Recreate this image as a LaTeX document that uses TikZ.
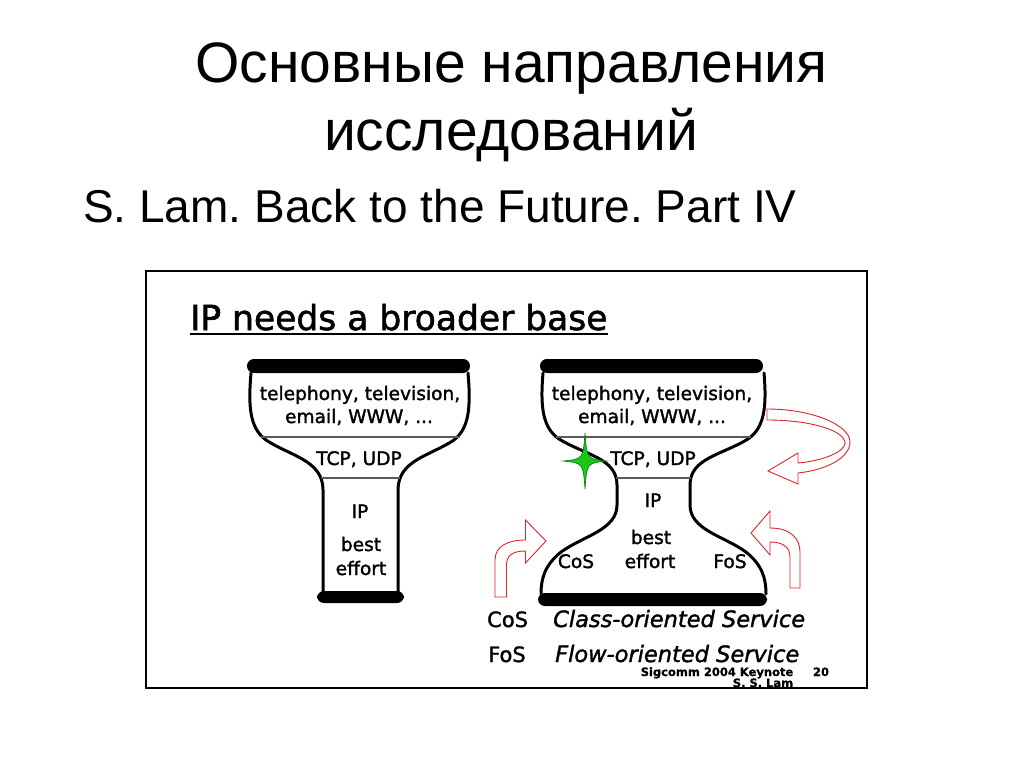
\documentclass[tikz,border=0pt]{standalone}
\usepackage{fontspec}
\setmainfont{Liberation Sans}
\newfontfamily\comic[FakeBold=1.6]{DejaVu Sans}
\newfontfamily\comicsmall[FakeBold=0.8]{DejaVu Sans}
\definecolor{arrowred}{RGB}{225,35,45}
\definecolor{stargreen}{RGB}{25,200,25}
\definecolor{stardark}{RGB}{0,120,0}
\frenchspacing
\begin{document}
\begin{tikzpicture}[x=1pt,y=-1pt,
  wall/.style={line width=3pt, line join=round, line cap=round},
  divider/.style={line width=1.2pt, black!65},
  barshape/.style={fill=black, rounded corners=6.9pt},
  lbl/.style={font=\comic\fontsize{18.6}{21}\selectfont, anchor=base, inner sep=0pt},
  legend/.style={font=\comic\fontsize{21}{24}\selectfont, anchor=base west, inner sep=0pt},
  legendit/.style={font=\comic\itshape\fontsize{22.5}{25}\selectfont, anchor=base west, inner sep=0pt},
  small/.style={font=\comicsmall\bfseries\fontsize{11.5}{13}\selectfont, anchor=base, inner sep=0pt},
  redarrow/.style={draw=arrowred, line width=0.9pt, fill=white, line join=miter}]
\useasboundingbox (0,0) rectangle (1024,768);
\fill[white] (0,0) rectangle (1024,768);

% slide titles
\node[anchor=base, inner sep=0pt, font=\fontsize{57}{68}\selectfont] (t1) at (511.5,82) {Основные направления};
\node[anchor=base, inner sep=0pt, font=\fontsize{57}{68}\selectfont] (t2) at (511,150) {исследований};
\node[anchor=base west, inner sep=0pt, font=\fontsize{46}{54}\selectfont] (t3) at (83,222) {S. Lam. Back to the Future. Part IV};

% heading of embedded slide
\node[anchor=base west, inner sep=0pt, font=\comic\fontsize{34.5}{38}\selectfont] (ipt) at (190,330) {IP needs a broader base};
\draw[line width=2pt] ([yshift=-4pt]ipt.base west) -- ([yshift=-4pt]ipt.base east);

% ---------- left hourglass ----------
\fill[barshape] (247,359) rectangle (470,373);
\fill[barshape] (317,591) rectangle (404,603);
\draw[wall] (251,373) .. controls (248,408) and (250,428) .. (266,440) .. controls (290,456) and (323,460) .. (323,490) -- (323,592);
\draw[wall] (468,373) .. controls (471,408) and (469,428) .. (454,440) .. controls (430,456) and (398,460) .. (398,490) -- (398,592);
\draw[divider] (261,437) -- (460,437);
\draw[divider] (321,478) -- (400,478);
\node[lbl] (la1) at (360,400) {telephony, television,};
\node[lbl] (la2) at (359,423) {email, WWW, ...};
\node[lbl] (lt) at (359,465) {TCP, UDP};
\node[lbl] (lip) at (360,518) {IP};
\node[lbl] (lb) at (361,551) {best};
\node[lbl] (le) at (361,575) {effort};

% ---------- right hourglass ----------
\fill[barshape] (540,359) rectangle (763,373);
\fill[barshape] (538,593) rectangle (767,606);
\draw[wall] (543,373) .. controls (540,408) and (543,428) .. (559,439) .. controls (585,455) and (617,458) .. (617,485) -- (617,505) .. controls (617,530) and (583,536) .. (561,552) .. controls (545,565) and (541,578) .. (541,594);
\draw[wall] (764,373) .. controls (767,408) and (764,428) .. (748,439) .. controls (722,455) and (690,458) .. (690,485) -- (690,505) .. controls (690,530) and (724,536) .. (746,552) .. controls (762,565) and (766,578) .. (766,594);
\draw[divider] (556,437) -- (751,437);
\draw[divider] (616,478) -- (691,478);
\node[lbl] (ra1) at (652,400) {telephony, television,};
\node[lbl] (ra2) at (652,423) {email, WWW, ...};
\node[lbl] (rt) at (653,465) {TCP, UDP};
\node[lbl] (rip) at (653,507) {IP};
\node[lbl] (rb) at (651,544) {best};
\node[lbl] (rc) at (576,568) {CoS};
\node[lbl] (re) at (650,568) {effort};
\node[lbl] (rf) at (730,568) {FoS};

% green star
\filldraw[fill=stargreen, draw=stardark, line width=0.6pt]
  (585,433) .. controls (587,459) .. (607,461) .. controls (587,463) .. (585,489)
  .. controls (583,463) .. (563,461) .. controls (583,459) .. (585,433) -- cycle;

% red arrows
\draw[redarrow] (767,409) .. controls (812,409) and (850,425) .. (850,442)
  .. controls (850,458) and (826,470) .. (798,473) -- (798,484) -- (768,471) -- (798,453) -- (798,463)
  .. controls (822,461) and (845,452) .. (845,443) .. controls (845,431) and (812,420) .. (767,420) -- cycle;
\draw[redarrow] (495,597) -- (495,560) .. controls (495,546) and (508,540) .. (525.5,540) -- (525.5,520)
  -- (546,541) -- (525.5,563) -- (525.5,551) .. controls (512,551) and (506.5,556) .. (506.5,565) -- (506.5,597) -- cycle;
\draw[redarrow] (790,588) -- (790,557) .. controls (790,548) and (784,542) .. (770,542) -- (770,555)
  -- (751,533) -- (770,511) -- (770,528) .. controls (790,528) and (800,538) .. (800,552) -- (800,588) -- cycle;

% legend
\node[legend] (lc) at (487,627) {CoS};
\node[legendit] (lcx) at (553,627) {Class-oriented Service};
\node[legend] (lf) at (488,662) {FoS};
\node[legendit] (lfx) at (555,662) {Flow-oriented Service};
\node[small] (sig) at (717,676) {Sigcomm 2004 Keynote};
\node[small] (num) at (821,676) {20};
\node[small] (ssl) at (763,687) {S. S. Lam};

% frame of the embedded slide
\draw[line width=2.5pt] (146,271) rectangle (867,688);
\end{tikzpicture}
\end{document}
